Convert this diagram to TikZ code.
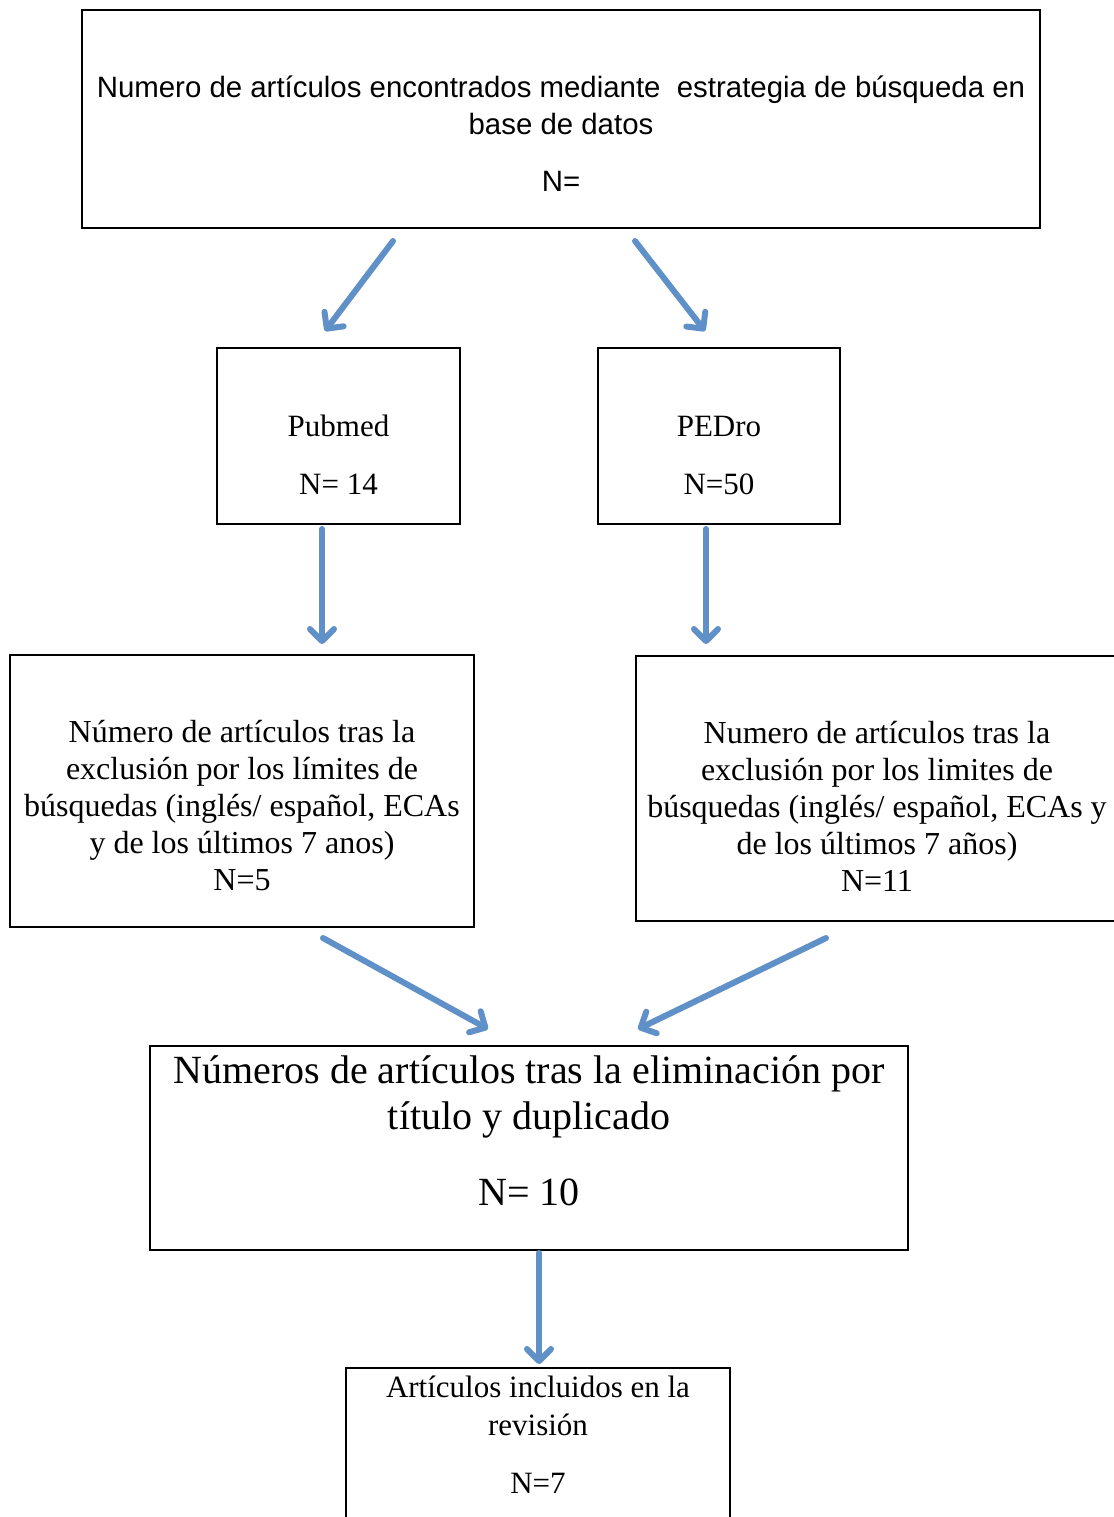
\documentclass[tikz,border=0pt]{standalone}
\usepackage{fontspec}
\setmainfont{Liberation Serif}
\newfontfamily\arialfont{Liberation Sans}
\usetikzlibrary{calc,arrows.meta}
\definecolor{flowblue}{RGB}{95,145,200}
\newcommand{\boxbody}[4]{\parbox[c][#2][t]{#1}{\centering\vspace*{#3}#4\par}}
\tikzset{
    component/.style={
    rectangle,draw=black,line width=1pt,inner sep=0pt
    },
    flow/.style={
    draw=flowblue,line width=3pt,line cap=round,
    -{Straight Barb[length=6pt,width=12pt,line cap=round,line join=round]},
    preaction={draw=black!40,opacity=0.3,transform canvas={xshift=0.8pt,yshift=-1.2pt}}
    },
}

\begin{document}
\begin{tikzpicture}[x=0.5pt,y=-0.5pt]
  \clip (0,0) rectangle (1114,1517);
  \node[component] (NUM) at (561,119) {\boxbody{479pt}{109pt}{31pt}{\arialfont\fontsize{14.7}{18.5}\selectfont\strut\mbox{Numero de artículos encontrados mediante\ \ estrategia de búsqueda en}\\\strut base de datos\\[10pt]\strut N=}};
  \node[component] (PUB) at (338.5,436) {\boxbody{121.5pt}{88pt}{31pt}{\fontsize{15.5}{19}\selectfont\strut Pubmed\\[10pt]\strut N= 14}};
  \node[component] (PED) at (719,436) {\boxbody{121pt}{88pt}{31pt}{\fontsize{15.5}{19}\selectfont\strut PEDro\\[10pt]\strut N=50}};
  \node[component] (EXL) at (242,791) {\boxbody{232pt}{136pt}{31pt}{\fontsize{16}{18.5}\selectfont\strut Número de artículos tras la\\exclusión por los límites de\\búsquedas (inglés/ español, ECAs\\y de los últimos 7 anos)\\N=5}};
  \node[component] (EXR) at (877,788.5) {\boxbody{241pt}{132.5pt}{31pt}{\fontsize{16}{18.5}\selectfont\strut Numero de artículos tras la\\exclusión por los limites de\\búsquedas (inglés/ español, ECAs y\\de los últimos 7 años)\\N=11}};
  \node[component] (ELIM) at (529,1148) {\boxbody{379pt}{102pt}{2.5pt}{\fontsize{20}{23}\selectfont\strut Números de artículos tras la eliminación por\\título y duplicado\\[15pt]\strut N= 10}};
  \node[component] (INC) at (538,1449) {\boxbody{192pt}{81pt}{1.2pt}{\fontsize{15.5}{19}\selectfont\strut Artículos incluidos en la\\revisión\\[10pt]\strut N=7}};

  \path
    ($(NUM.south)+(-168,12)$) edge [flow] ($(PUB.north)+(-13.5,-16)$)
    ($(NUM.south)+(74,12)$) edge [flow] ($(PED.north)+(-14,-16)$)
    ($(PUB.south)+(-16.5,4)$) edge [flow] ($(EXL.north)+(80,-10)$)
    ($(PED.south)+(-13,4)$) edge [flow] ($(EXR.north)+(-171,-11)$)
    ($(EXL.south)+(81,10)$) edge [flow] ($(ELIM.north)+(-41,-16)$)
    ($(EXR.south)+(-51,16)$) edge [flow] ($(ELIM.north)+(109,-16)$)
    ($(ELIM.south)+(10,2)$) edge [flow] ($(INC.north)+(1,-3)$);

\end{tikzpicture}
\end{document}
